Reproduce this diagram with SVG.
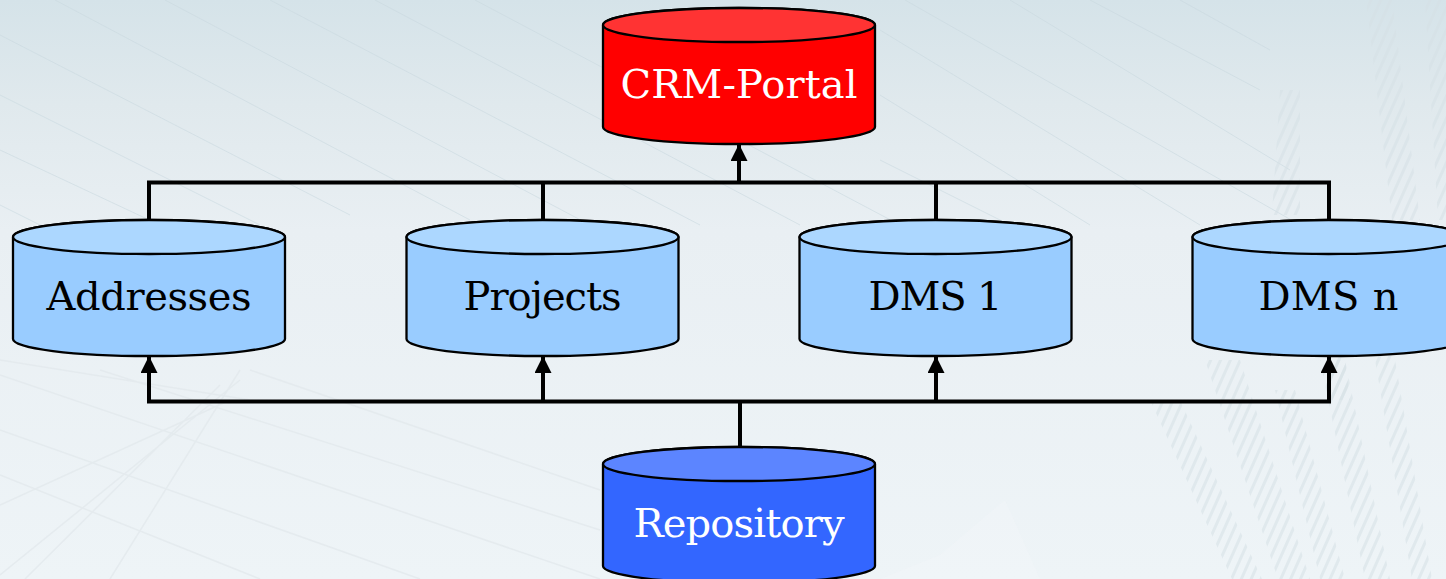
<svg xmlns="http://www.w3.org/2000/svg" width="1446" height="579" viewBox="0 0 1446 579">
<style>
.body{stroke:#000;stroke-width:2.300}
.t{font-family:"DejaVu Serif",serif;font-size:40px;text-anchor:middle}
.w{stroke:#000;stroke-width:4;fill:none}
.bw{stroke:#000;stroke-width:4;fill:none;stroke-linecap:square}
.bg1{stroke:#c9d8df;stroke-width:1;fill:none;opacity:.6}
.bg2{stroke:#e2e9ec;stroke-width:1.500;fill:none;opacity:.8}
.band{fill:url(#hatch);opacity:.55}
</style>
<defs>
<linearGradient id="bg" x1="0" y1="0" x2="0" y2="1"><stop offset="0" stop-color="#d5e3e9"/><stop offset=".18" stop-color="#e0e9ed"/><stop offset=".4" stop-color="#e9eff3"/><stop offset="1" stop-color="#eef4f7"/></linearGradient>
<pattern id="hatch" width="9" height="9" patternUnits="userSpaceOnUse" patternTransform="rotate(24)"><rect width="3" height="9" fill="#d5e0e5"/></pattern>
<marker id="a" markerUnits="userSpaceOnUse" markerWidth="17" markerHeight="17" viewBox="0 0 17 17" refX="16" refY="8.500" orient="auto"><path d="M0 0L17 8.500L0 17Z" fill="#000"/></marker>
<path id="cyl" d="M-136 -51C-136 -60.400 -75 -68 0 -68C75 -68 136 -60.400 136 -51L136 51C136 60.400 75 68 0 68C-75 68 -136 60.400 -136 51Z"/>
<path id="top" d="M-136 -51C-136 -60.400 -75 -68 0 -68C75 -68 136 -60.400 136 -51C136 -41.600 75 -34 0 -34C-75 -34 -136 -41.600 -136 -51Z"/>
</defs>
<g id="background">
<rect width="1446" height="579" fill="url(#bg)"/>
<path class="bg1" d="M55 0L470 220M165 0L590 225M270 0L700 225M375 0L800 225M475 0L900 225M0 35L350 215M0 95L260 225M0 150L160 225M0 205L60 235"/>
<path class="bg1" d="M905 0L1300 225M1010 0L1290 170M1090 0L1260 90M1180 0L1270 50M880 30L1200 225M880 95L1090 225M880 160L1010 225"/>
<path class="bg2" d="M0 375L600 579M0 430L420 579M0 475L260 579M100 370L600 530M250 370L600 490M0 360L250 400M0 505L230 400M0 575L240 380M25 579L220 385M110 579L240 370"/>
<polygon class="band" points="1150,400 1180,400 1262,579 1232,579"/>
<polygon class="band" points="1205,360 1240,360 1310,579 1278,579"/>
<polygon class="band" points="1275,390 1295,390 1345,579 1320,579"/>
<polygon class="band" points="1320,360 1345,360 1390,579 1365,579"/>
<polygon class="band" points="1370,330 1390,330 1432,579 1412,579"/>
<polygon class="band" points="1310,240 1330,240 1350,400 1328,400"/>
<polygon class="band" points="1366,0 1392,0 1420,220 1392,220"/>
<polygon class="band" points="1425,0 1446,0 1446,220 1438,220"/>
<polygon class="band" points="1280,90 1300,90 1300,215 1272,215"/>
<path d="M880 579L940 555L1005 500L1040 579Z" fill="#f3f7f9" opacity=".35"/>
</g>
<g id="connectors">
<path class="w" d="M149 220V182.500H1329V220M543 220V182.500M936 220V182.500"/>
<path class="w" d="M739 182.500V145" marker-end="url(#a)"/>
<path class="w" d="M740 447V401.500"/>
<path class="bw" d="M149 401.500H1329"/>
<path class="w" d="M149 401.500V357" marker-end="url(#a)"/>
<path class="w" d="M543 401.500V357" marker-end="url(#a)"/>
<path class="w" d="M936 401.500V357" marker-end="url(#a)"/>
<path class="w" d="M1329 401.500V357" marker-end="url(#a)"/>
</g>
<g id="crm-portal" transform="translate(739 76)"><use href="#cyl" class="body" fill="#f00"/><use href="#top" class="body" fill="#f33"/><text class="t" y="22" fill="#fff" textLength="237">CRM-Portal</text></g>
<g id="addresses" transform="translate(149 288)"><use href="#cyl" class="body" fill="#9cf"/><use href="#top" class="body" fill="#acd7ff"/><text class="t" y="22" fill="#000" textLength="205">Addresses</text></g>
<g id="projects" transform="translate(542.500 288)"><use href="#cyl" class="body" fill="#9cf"/><use href="#top" class="body" fill="#acd7ff"/><text class="t" y="22" fill="#000" textLength="158">Projects</text></g>
<g id="dms-1" transform="translate(935.500 288)"><use href="#cyl" class="body" fill="#9cf"/><use href="#top" class="body" fill="#acd7ff"/><text class="t" y="22" fill="#000" textLength="134">DMS 1</text></g>
<g id="dms-n" transform="translate(1328.500 288)"><use href="#cyl" class="body" fill="#9cf"/><use href="#top" class="body" fill="#acd7ff"/><text class="t" y="22" fill="#000" textLength="140">DMS n</text></g>
<g id="repository" transform="translate(739 515)"><use href="#cyl" class="body" fill="#36f"/><use href="#top" class="body" fill="#5c85ff"/><text class="t" y="22" fill="#fff" textLength="211">Repository</text></g>
</svg>
